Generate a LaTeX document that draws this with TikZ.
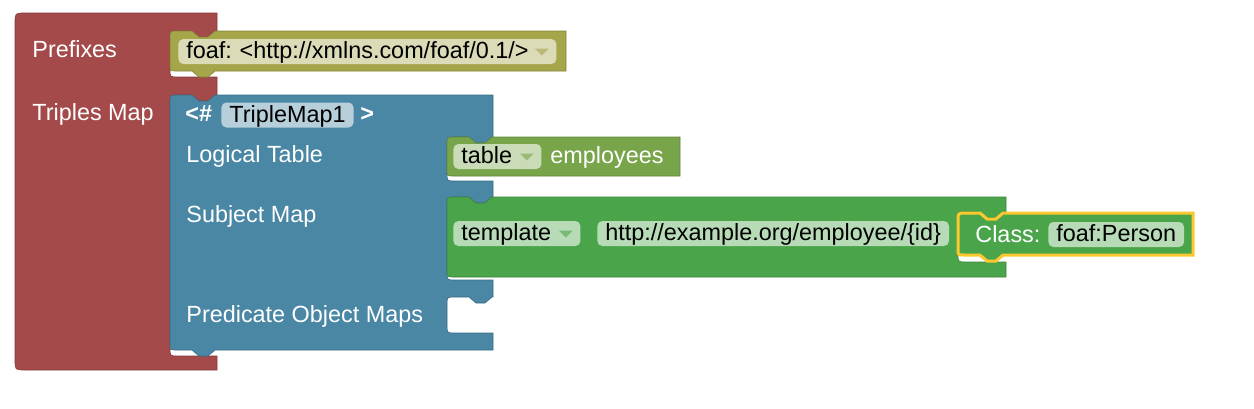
\documentclass[tikz,border=0pt]{standalone}
\usepackage{fontspec}
\setmainfont{Liberation Sans}
\frenchspacing

\definecolor{prefixred}{RGB}{165,74,74}
\definecolor{prefixolive}{RGB}{165,165,74}
\definecolor{triplesblue}{RGB}{74,135,165}
\definecolor{tableolive}{RGB}{120,165,74}
\definecolor{subjectgreen}{RGB}{74,165,74}
\definecolor{selectyellow}{RGB}{252,200,45}

\newcommand{\notchR}[2]{-- ({#1+22},#2) -- ({#1+29},{#2+6}) -- ({#1+38},{#2+6}) -- ({#1+45},#2)}
\newcommand{\notchL}[2]{-- ({#1+45},#2) -- ({#1+38},{#2+6}) -- ({#1+29},{#2+6}) -- ({#1+22},#2)}
\newcommand{\dropdown}[2]{\fill[#1] ([xshift=-11pt,yshift=1.5pt]#2.east) -- ++(7pt,0pt) -- ++(-3.5pt,-3.5pt) -- cycle;}

\begin{document}
\begin{tikzpicture}
        [
            x = 0.5pt, y = -0.5pt,
            every node/.style = {font = \fontsize{11.7}{14}\selectfont},
            block/.style = {fill = #1, draw = #1!80!black, line width = 0.3pt},
            lbl/.style = {anchor = base west, inner sep = 0pt, text = white},
            field/.style = {anchor = west, fill = #1!40!white, rounded corners = 2.5pt, inner xsep = 4pt, inner ysep = 0pt, minimum height = 12.5pt, text height = 9pt, text depth = 2pt, align = left, text = black}
        ]
        \fill[white] (0,0) rectangle (1254,408);
        \useasboundingbox (0,0) rectangle (1254,408);
        % prefixes / triples map
        \path[block = prefixred] (15,23) .. controls (15,13) .. (25,13) -- (217,13) -- (217,31) \notchL{170}{31} -- (178,31) .. controls (170,31) .. (170,39) -- (170,69) .. controls (170,77) .. (178,77) -- (217,77) -- (217,95) \notchL{170}{95} -- (178,95) .. controls (170,95) .. (170,103) -- (170,348) .. controls (170,356) .. (178,356) -- (217,356) -- (217,370) -- (25,370) .. controls (15,370) .. (15,360) -- cycle;
        \node[lbl] (prefixes) at (32,57) {Prefixes};
        \node[lbl] (triplesmap) at (32,120) {Triples Map};
        \path[block = prefixolive] (170,39) .. controls (170,31) .. (178,31) \notchR{170}{31} -- (566,31) -- (566,71) \notchL{170}{71} -- (176,71) .. controls (170,71) .. (170,65) -- cycle;
        \node[field = prefixolive, text width = 181pt] (prefixfield) at (178,51.5) {foaf: <http://xmlns.com/foaf/0.1/>};
        \dropdown{prefixolive!75!white}{prefixfield}
        % triple map block
        \path[block = triplesblue] (170,103) .. controls (170,95) .. (178,95) \notchR{170}{95} -- (493,95) -- (493,137) \notchL{447}{137} -- (455,137) .. controls (447,137) .. (447,145) -- (447,173) .. controls (447,181) .. (455,181) -- (493,181) -- (493,197) \notchL{447}{197} -- (455,197) .. controls (447,197) .. (447,205) -- (447,272) .. controls (447,280) .. (455,280) -- (493,280) -- (493,297) \notchL{447}{297} -- (455,297) .. controls (447,297) .. (447,305) -- (447,325) .. controls (447,333) .. (455,333) -- (493,333) -- (493,350) \notchL{170}{350} -- (176,350) .. controls (170,350) .. (170,344) -- cycle;
        \node[lbl] (hashopen) at (185,121.5) {\bfseries <\#};
        \node[field = triplesblue] (mapname) at (221,115) {TripleMap1};
        \node[lbl] (hashclose) at (360,121.5) {\bfseries >};
        \node[lbl] (logicaltable) at (186,162) {Logical Table};
        \node[lbl] (subjectmap) at (186,222) {Subject Map};
        \node[lbl] (predobjmaps) at (186,322) {Predicate Object Maps};
        % logical table
        \path[block = tableolive] (447,145) .. controls (447,137) .. (455,137) \notchR{447}{137} -- (680,137) -- (680,176) -- (453,176) .. controls (447,176) .. (447,170) -- cycle;
        \node[field = tableolive, text width = 36pt] (tablefield) at (453,156.5) {table};
        \dropdown{tableolive!75!white}{tablefield}
        \node[lbl] (tablename) at (550,163.5) {employees};
        % subject map
        \path[block = subjectgreen] (447,205) .. controls (447,197) .. (455,197) \notchR{447}{197} -- (1006,197) -- (1006,212) \notchL{958}{212} -- (966,212) .. controls (958,212) .. (958,220) -- (958,254) .. controls (958,262) .. (966,262) -- (1006,262) -- (1006,277) -- (453,277) .. controls (447,277) .. (447,271) -- cycle;
        \node[field = subjectgreen, text width = 55.5pt] (templatefield) at (453,233.5) {template};
        \dropdown{subjectgreen!75!white}{templatefield}
        \node[field = subjectgreen] (templateurl) at (597,233.5) {http://example.org/employee/\{id\}};
        % class (selected)
        \path[fill = subjectgreen, draw = selectyellow, line width = 1.5pt] (958,221) .. controls (958,213) .. (966,213) \notchR{958}{213} -- (1193,213) -- (1193,255) \notchL{958}{255} -- (964,255) .. controls (958,255) .. (958,249) -- cycle;
        \node[lbl] (classlbl) at (975,242) {Class:};
        \node[field = subjectgreen] (classfield) at (1048,234.5) {foaf:Person};
    \end{tikzpicture}
\end{document}
